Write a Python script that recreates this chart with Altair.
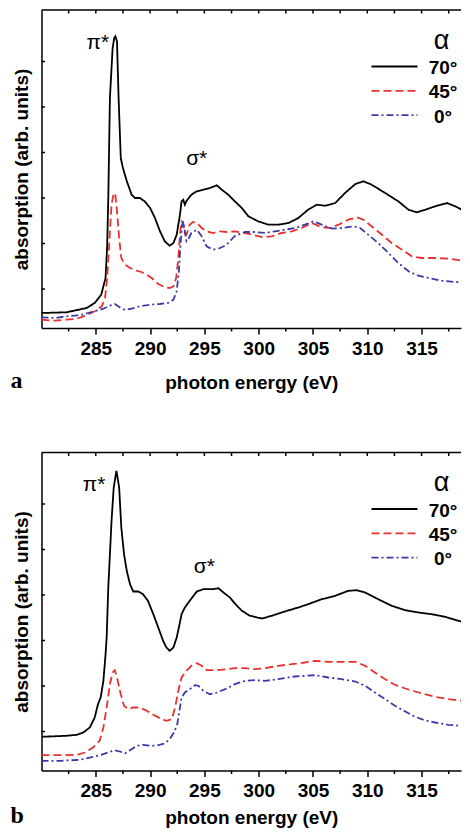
import altair as alt
import pandas as pd

SERIES = ["70°", "45°", "0°"]
COLORS = ["#000000", "#e8312f", "#3b3aa8"]
DASHES = [[1, 0], [8, 4], [7, 3, 2, 3]]

X_MAJOR = [285, 290, 295, 300, 305, 310, 315]
X_MINOR = [282.5, 287.5, 292.5, 297.5, 302.5, 307.5, 312.5, 317.5]
Y_TICKS = [0.39, 0.845, 1.30, 1.755, 2.21, 2.665]

# panel a : (photon energy eV, absorption arb. units)
A70 = [(280.0, 0.15), (282.3, 0.157), (284.15, 0.20), (284.9, 0.25), (285.5, 0.333), (285.9, 0.50),
       (286.05, 0.833), (286.15, 1.30), (286.3, 2.30), (286.55, 2.80), (286.7, 2.90), (286.8, 2.917),
       (286.95, 2.867), (287.1, 2.30), (287.3, 1.70), (287.5, 1.60), (287.85, 1.47), (288.3, 1.333),
       (288.6, 1.30), (289.05, 1.30), (289.5, 1.267), (290.0, 1.20), (290.45, 1.10), (290.9, 0.97),
       (291.35, 0.867), (291.8, 0.823), (292.15, 0.85), (292.45, 0.933), (292.75, 1.133), (292.9, 1.267),
       (293.05, 1.283), (293.2, 1.233), (293.35, 1.27), (293.8, 1.333), (294.3, 1.367), (294.9, 1.383),
       (295.5, 1.40), (296.15, 1.427), (296.6, 1.383), (297.2, 1.333), (297.8, 1.267), (298.45, 1.20),
       (299.05, 1.117), (299.95, 1.067), (300.9, 1.033), (301.8, 1.033), (302.75, 1.05), (303.65, 1.10),
       (304.55, 1.183), (305.35, 1.233), (306.1, 1.223), (307.05, 1.25), (307.95, 1.35), (308.9, 1.44),
       (309.65, 1.467), (310.4, 1.433), (311.65, 1.35), (312.85, 1.267), (313.8, 1.183), (314.55, 1.157),
       (315.35, 1.183), (316.25, 1.217), (317.35, 1.25), (318.1, 1.217), (319.0, 1.167), (319.45, 1.133)]
A45 = [(280.0, 0.083), (281.25, 0.073), (282.3, 0.083), (283.25, 0.093), (284.15, 0.127), (284.9, 0.167),
       (285.55, 0.217), (285.85, 0.30), (286.05, 0.50), (286.3, 0.967), (286.45, 1.233), (286.65, 1.35),
       (286.8, 1.333), (286.95, 1.167), (287.15, 0.90), (287.35, 0.70), (287.7, 0.633), (288.15, 0.60),
       (288.75, 0.573), (289.2, 0.56), (289.7, 0.533), (290.15, 0.50), (290.75, 0.44), (291.35, 0.407),
       (291.8, 0.40), (292.15, 0.417), (292.4, 0.50), (292.6, 0.70), (292.75, 0.933), (292.9, 1.067),
       (293.05, 1.05), (293.2, 0.95), (293.35, 0.933), (293.65, 1.033), (293.95, 1.06), (294.3, 1.05),
       (294.75, 1.00), (295.2, 0.967), (295.8, 0.95), (296.45, 0.967), (297.05, 0.96), (297.8, 0.967),
       (298.75, 0.95), (299.65, 0.927), (300.4, 0.907), (301.2, 0.917), (302.1, 0.95), (303.05, 0.967),
       (303.95, 1.00), (304.9, 1.05), (305.8, 1.007), (306.55, 1.00), (307.35, 1.033), (308.25, 1.083),
       (309.05, 1.107), (309.65, 1.083), (310.4, 1.017), (311.35, 0.933), (312.25, 0.85), (313.2, 0.783),
       (314.1, 0.717), (315.0, 0.70), (316.25, 0.70), (317.5, 0.693), (318.7, 0.673), (319.45, 0.657)]
A0 = [(280.0, 0.107), (281.25, 0.10), (282.3, 0.117), (283.55, 0.127), (284.3, 0.15), (285.05, 0.173),
      (285.7, 0.193), (286.3, 0.223), (286.75, 0.24), (287.2, 0.207), (287.7, 0.18), (288.3, 0.193),
      (289.05, 0.217), (290.0, 0.233), (290.9, 0.24), (291.65, 0.25), (292.15, 0.283), (292.45, 0.367),
      (292.65, 0.567), (292.8, 0.833), (292.95, 1.033), (293.05, 1.067), (293.2, 0.967), (293.35, 0.867),
      (293.5, 0.883), (293.8, 0.95), (294.3, 0.983), (294.75, 0.917), (295.2, 0.817), (295.8, 0.783),
      (296.45, 0.80), (297.05, 0.833), (297.8, 0.92), (298.75, 0.96), (299.65, 0.96), (300.6, 0.95),
      (301.5, 0.967), (302.4, 0.983), (303.35, 1.00), (304.25, 1.033), (305.05, 1.067), (305.8, 1.033),
      (306.75, 0.993), (307.65, 1.00), (308.7, 1.017), (309.35, 1.00), (310.1, 0.933), (311.0, 0.85),
      (311.95, 0.75), (312.85, 0.65), (313.8, 0.567), (314.7, 0.523), (315.65, 0.50), (316.85, 0.473),
      (318.1, 0.46), (319.45, 0.46)]

# panel b
B70 = [(280.0, 0.337), (282.3, 0.347), (283.25, 0.357), (283.85, 0.38), (284.45, 0.43), (284.9, 0.53),
       (285.2, 0.663), (285.45, 0.73), (285.7, 0.897), (285.9, 1.163), (286.0, 1.33), (286.15, 1.83),
       (286.45, 2.497), (286.65, 2.83), (286.9, 2.997), (287.15, 2.83), (287.35, 2.43), (287.6, 2.163),
       (287.85, 1.997), (288.15, 1.863), (288.45, 1.79), (288.9, 1.79), (289.35, 1.763), (289.8, 1.697),
       (290.3, 1.563), (290.75, 1.43), (291.2, 1.297), (291.5, 1.23), (291.8, 1.197), (292.15, 1.23),
       (292.45, 1.33), (292.65, 1.43), (292.9, 1.563), (293.2, 1.63), (293.65, 1.697), (294.3, 1.79),
       (294.9, 1.813), (295.8, 1.813), (296.3, 1.823), (296.75, 1.78), (297.35, 1.73), (297.8, 1.67),
       (298.45, 1.597), (299.2, 1.547), (300.3, 1.52), (301.2, 1.547), (302.4, 1.59), (303.65, 1.63),
       (304.55, 1.663), (305.8, 1.713), (307.05, 1.747), (308.25, 1.797), (309.05, 1.803), (309.8, 1.78),
       (311.0, 1.713), (312.25, 1.647), (313.5, 1.603), (314.7, 1.58), (315.95, 1.563), (317.15, 1.537),
       (318.4, 1.497), (319.45, 1.463)]
B45 = [(280.0, 0.153), (281.7, 0.153), (283.25, 0.157), (284.0, 0.18), (284.75, 0.23), (285.35, 0.297),
       (285.7, 0.43), (286.0, 0.63), (286.3, 0.863), (286.55, 0.98), (286.75, 1.003), (286.95, 0.93),
       (287.3, 0.763), (287.6, 0.647), (288.0, 0.613), (288.45, 0.63), (289.05, 0.63), (289.7, 0.597),
       (290.3, 0.557), (290.9, 0.523), (291.5, 0.497), (292.0, 0.513), (292.3, 0.63), (292.6, 0.797),
       (292.9, 0.93), (293.35, 0.997), (293.8, 1.047), (294.3, 1.073), (294.75, 1.047), (295.2, 1.003),
       (296.15, 1.003), (297.05, 1.013), (297.8, 1.023), (298.75, 1.023), (299.65, 1.013), (300.6, 1.023),
       (301.8, 1.047), (303.05, 1.063), (304.25, 1.08), (305.2, 1.097), (306.4, 1.087), (307.65, 1.087),
       (308.9, 1.087), (309.8, 1.047), (310.7, 0.98), (311.65, 0.913), (312.55, 0.857), (313.5, 0.82),
       (314.4, 0.79), (315.3, 0.763), (316.25, 0.737), (317.45, 0.713), (318.7, 0.697), (319.45, 0.69)]
B0 = [(280.0, 0.097), (281.7, 0.097), (283.55, 0.107), (284.75, 0.137), (285.7, 0.163), (286.3, 0.187),
      (286.75, 0.203), (287.2, 0.19), (287.7, 0.173), (288.3, 0.213), (288.75, 0.247), (289.35, 0.257),
      (290.15, 0.247), (290.75, 0.253), (291.35, 0.27), (291.8, 0.313), (292.2, 0.38), (292.5, 0.463),
      (292.7, 0.597), (292.9, 0.73), (293.2, 0.78), (293.65, 0.813), (294.15, 0.853), (294.45, 0.847),
      (294.9, 0.797), (295.5, 0.763), (296.15, 0.78), (297.05, 0.82), (297.8, 0.863), (298.75, 0.897),
      (299.65, 0.903), (300.6, 0.897), (301.8, 0.913), (303.05, 0.937), (304.25, 0.947), (305.2, 0.953),
      (306.4, 0.93), (307.65, 0.913), (308.9, 0.89), (309.8, 0.847), (310.7, 0.78), (311.65, 0.713),
      (312.55, 0.647), (313.5, 0.59), (314.4, 0.537), (315.3, 0.503), (316.25, 0.48), (317.45, 0.457),
      (318.7, 0.447), (319.45, 0.447)]

W, H = 419.5, 318
SANS = "Liberation Sans"
XDOM = [280, 318.63]
YDOM = [0, 3.18]


def x_axis(title_pad):
    return alt.Axis(values=X_MAJOR, tickSize=6, tickWidth=1.5, tickColor="black",
                    domainColor="black", domainWidth=1.5, labelPadding=5, grid=False,
                    title="photon energy (eV)", titlePadding=title_pad, format="d")


Y_AXIS = alt.Axis(labels=False, ticks=False, grid=False, domainColor="black", domainWidth=1.5,
                  title="absorption (arb. units)", titlePadding=10)


def frame(curves):
    rows = []
    for name, pts in zip(SERIES, curves):
        for i, (e, y) in enumerate(pts):
            rows.append({"series": name, "E": e, "Y": y, "i": i})
    return pd.DataFrame(rows)


ONE = pd.DataFrame({"k": [0]})


def text_at(txt, x, y, size, font=SANS, weight="normal", align="center"):
    return alt.Chart(ONE).mark_text(text=txt, font=font, fontSize=size, fontWeight=weight,
                                    align=align, baseline="alphabetic", color="black").encode(
        x=alt.value(x), y=alt.value(y))


def panel(curves, letter, pi_pos, sigma_pos, title_pad, letter_y):
    xa = x_axis(title_pad)

    def xs():
        return alt.X("E:Q", scale=alt.Scale(domain=XDOM, nice=False, zero=False), axis=xa)

    def ys():
        return alt.Y("Y:Q", scale=alt.Scale(domain=YDOM, nice=False, zero=False), axis=Y_AXIS)

    df = frame(curves)
    lines = alt.Chart(df).mark_line(strokeWidth=1.8, clip=True).encode(
        x=xs(), y=ys(),
        color=alt.Color("series:N", scale=alt.Scale(domain=SERIES, range=COLORS), legend=None),
        strokeDash=alt.StrokeDash("series:N", scale=alt.Scale(domain=SERIES, range=DASHES), legend=None),
        order=alt.Order("i:Q"),
    )
    top_border = alt.Chart(ONE).mark_rule(color="black", strokeWidth=1.5).encode(
        x=alt.value(0), x2=alt.value(W), y=alt.value(0))
    top_ticks = alt.Chart(pd.DataFrame({"E": X_MAJOR + X_MINOR})).mark_rule(
        color="black", strokeWidth=1.5).encode(x=xs(), y=alt.value(0), y2=alt.value(3.5))
    bottom_minor = alt.Chart(pd.DataFrame({"E": X_MINOR})).mark_rule(
        color="black", strokeWidth=1.5).encode(x=xs(), y=alt.value(H), y2=alt.value(H + 3.5))
    left_ticks = alt.Chart(pd.DataFrame({"Y": Y_TICKS})).mark_rule(
        color="black", strokeWidth=1.5).encode(y=ys(), x=alt.value(0), x2=alt.value(3.5))

    legend_layers = [text_at("α", 400, 38.5, 27)]
    for k, (name, col, dash) in enumerate(zip(SERIES, COLORS, DASHES)):
        ly = 56.5 + 24.3 * k
        legend_layers.append(
            alt.Chart(ONE).mark_rule(color=col, strokeDash=dash, strokeWidth=1.8).encode(
                x=alt.value(330), x2=alt.value(376), y=alt.value(ly)))
        legend_layers.append(
            alt.Chart(ONE).mark_text(text=name, font=SANS, fontSize=19, fontWeight="bold",
                                     align="center", baseline="middle", color="black").encode(
                x=alt.value(401.5), y=alt.value(ly + 1.5)))

    notes = [text_at("π*", pi_pos[0], pi_pos[1], 21),
             text_at("σ*", sigma_pos[0], sigma_pos[1], 21),
             text_at(letter, -31, letter_y, 24, font="Liberation Serif", weight="bold", align="left")]

    return alt.layer(lines, top_border, top_ticks, bottom_minor, left_ticks,
                     *legend_layers, *notes).properties(width=W, height=H)


top = panel([A70, A45, A0], "a", (56.3, 38.5), (155.2, 155), 15, H + 60)
bottom = panel([B70, B45, B0], "b", (52.7, 38), (162.8, 120), 8, H + 52)

chart = alt.vconcat(top, bottom, spacing=124.5, bounds="flush").properties(
    padding={"left": 2.5, "top": 1, "right": 0, "bottom": 0}
).configure_view(stroke=None).configure_axis(
    labelFont=SANS, labelFontSize=19, labelFontWeight="bold", labelColor="black",
    titleFont=SANS, titleFontSize=19, titleFontWeight="bold", titleColor="black",
)

chart.save("out.html", embed_options={"renderer": "svg", "actions": False})
